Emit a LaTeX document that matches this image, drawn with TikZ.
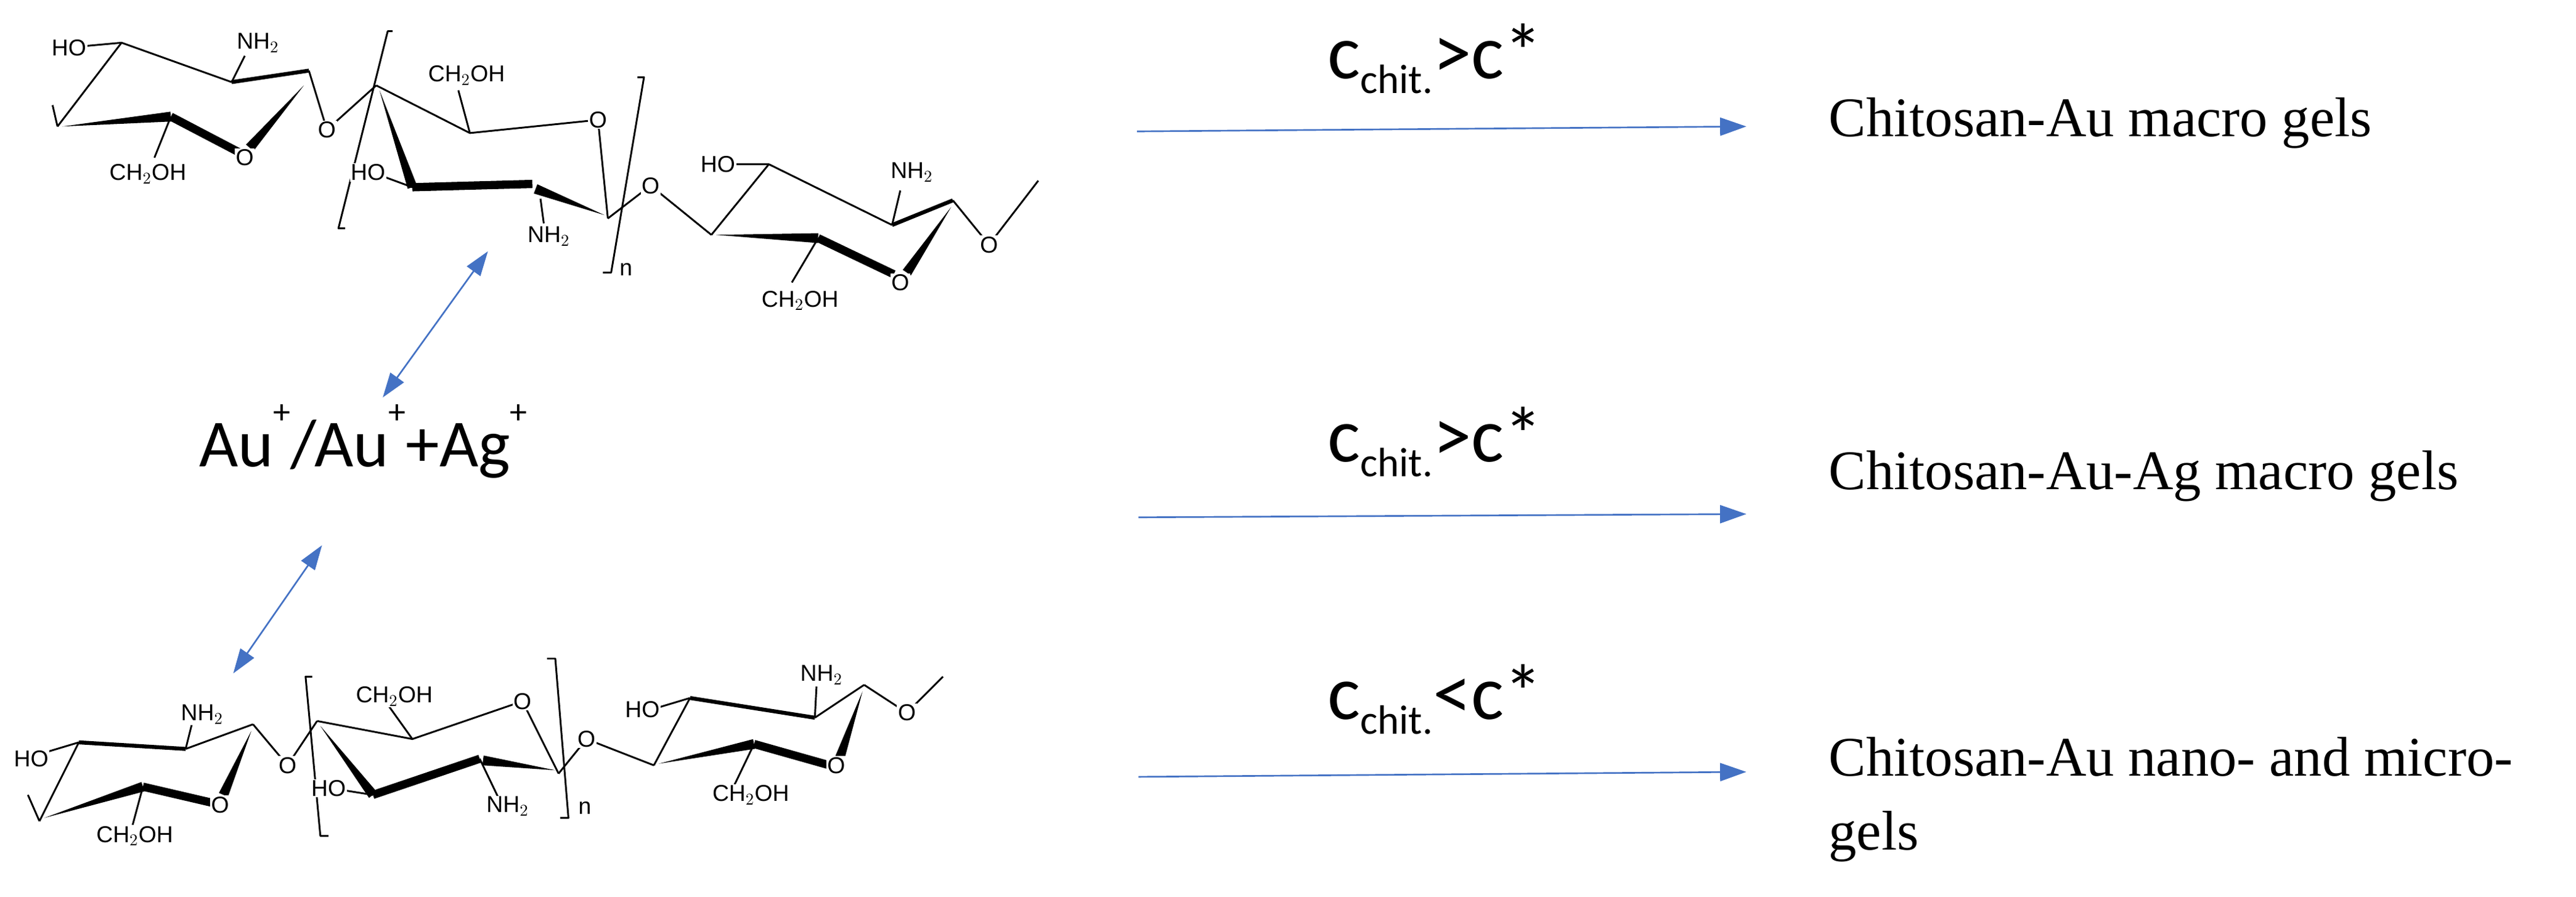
\documentclass[tikz,border=0pt]{standalone}
\usepackage{fontspec}
\setmainfont{Liberation Serif}
\newfontfamily\calfont{Carlito}
\newfontfamily\hel{Liberation Sans}
\usetikzlibrary{calc,arrows.meta}
\definecolor{ab}{RGB}{68,114,196}
\tikzset{
 bond/.style={line width=1.1pt,line join=round},
 mid/.style={line width=2.4pt,line join=round},
 thick bond/.style={line width=5pt,line join=round},
 atom/.style={font=\hel\fontsize{14}{14}\selectfont,fill=white,inner sep=0.6pt},
 rarrow/.style={ab,line width=1pt,-{Triangle[length=16pt,width=11pt]}},
 darrow/.style={ab,line width=1pt,{Triangle[length=15pt,width=10pt]}-{Triangle[length=15pt,width=10pt]}},
 cond/.style={font=\calfont\fontsize{47}{47}\selectfont,inner sep=0pt},
 prod/.style={font=\fontsize{34}{45}\selectfont,anchor=west,inner sep=0pt,align=left}
}
\newcommand{\wdg}[3]{\fill ($#1$) -- ($#2!#3!90:#1$) -- ($#2!#3!-90:#1$) -- cycle;}
\newcommand{\cchit}[1]{c\raisebox{-9pt}{\fontsize{25}{25}\selectfont chit.}#1c*}
\begin{document}
\begin{tikzpicture}[x=1pt,y=-1pt]
\useasboundingbox (0,0) rectangle (1568,546);
% ================= top structure =================
\begin{scope}
% ring A
\draw[bond] (35,77) -- (74,26) -- (141,50);
\draw[mid] (141,50) -- (188,43);
\draw[bond] (35,77) -- (32,64);
\draw[bond] (141,50) -- (149,34);
\draw[bond] (104,71) -- (94,96);
\draw[bond] (74,26) -- (52,28);
\wdg{(185,52)}{(152,90)}{3pt}
\draw[thick bond] (104,71) -- (146,93);
\wdg{(38,77)}{(104,71)}{3pt}
\draw[bond] (188,43) -- (199,79) -- (229,52);
% ring B
\draw[bond] (229,52) -- (286,81) -- (364,73) -- (370,133);
\draw[bond] (286,81) -- (279,55);
\wdg{(231,55)}{(251,114)}{3pt}
\draw[thick bond] (251,114) -- (324,112);
\wdg{(368,131)}{(326,115)}{3pt}
\draw[bond] (251,114) -- (232,107);
\draw[bond] (329,121) -- (331,136);
\draw[bond] (370,133) -- (396,113) -- (433,143);
% brackets
\draw[bond] (239,19) -- (236,19) -- (206,139) -- (210,139);
\draw[bond] (388,47) -- (392,47) -- (372,166) -- (367,166);
\node[atom,fill=none] (nt) at (381,164) {n};
% ring C
\draw[bond] (433,143) -- (468,100) -- (543,137);
\draw[mid] (543,137) -- (580,122);
\draw[bond] (468,100) -- (446,100);
\draw[bond] (543,137) -- (548,116);
\wdg{(579,126)}{(552,166)}{3pt}
\draw[thick bond] (498,145) -- (544,167);
\wdg{(436,143)}{(498,145)}{3pt}
\draw[bond] (498,145) -- (482,172);
\draw[bond] (580,122) -- (602,149) -- (632,110);
% labels
\node[atom] (a1) at (42,29) {HO};
\node[atom] (a2) at (157,26) {NH$_2$};
\node[atom] (a3) at (149,96) {O};
\node[atom] (a4) at (90,106) {CH$_2$OH};
\node[atom] (a5) at (199,79) {O};
\node[atom] (a6) at (284,46) {CH$_2$OH};
\node[atom] (a7) at (364,73) {O};
\node[atom] (a8) at (224,105) {HO};
\node[atom] (a9) at (334,144) {NH$_2$};
\node[atom] (a10) at (396,113) {O};
\node[atom] (a11) at (437,100) {HO};
\node[atom] (a12) at (555,105) {NH$_2$};
\node[atom] (a13) at (548,172) {O};
\node[atom] (a14) at (487,183) {CH$_2$OH};
\node[atom] (a15) at (602,149) {O};
\end{scope}
% ================= bottom structure =================
\begin{scope}
\draw[mid] (48,452) -- (113,456);
\draw[bond] (24,500) -- (48,452);
\draw[bond] (113,456) -- (154,441);
\draw[bond] (48,452) -- (28,458);
\draw[bond] (113,456) -- (117,440);
\draw[bond] (24,500) -- (17,484);
\wdg{(153,445)}{(136,484)}{3pt}
\draw[thick bond] (87,479) -- (130,489);
\wdg{(27,498)}{(87,479)}{3pt}
\draw[bond] (87,479) -- (80,505);
\draw[bond] (154,441) -- (175,466) -- (193,439);
% ring B
\draw[bond] (193,439) -- (251,450) -- (318,427) -- (340,471);
\draw[bond] (251,450) -- (236,429);
\wdg{(195,442)}{(227,484)}{3pt}
\draw[thick bond] (227,484) -- (292,462);
\wdg{(338,469)}{(294,463)}{3pt}
\draw[bond] (227,484) -- (208,481);
\draw[bond] (292,462) -- (303,485);
\draw[bond] (340,471) -- (357,450) -- (398,466);
% brackets
\draw[bond] (190,412) -- (186,412) -- (195,509) -- (200,509);
\draw[bond] (333,401) -- (338,401) -- (346,498) -- (341,498);
\node[atom,fill=none] (nb) at (356,492) {n};
% ring C
\draw[bond] (398,466) -- (420,425);
\draw[mid] (420,425) -- (496,437);
\draw[bond] (496,437) -- (526,417);
\draw[bond] (420,425) -- (400,431);
\draw[bond] (496,437) -- (497,418);
\wdg{(525,421)}{(511,462)}{3pt}
\draw[thick bond] (459,453) -- (505,466);
\wdg{(401,465)}{(459,453)}{3pt}
\draw[bond] (459,453) -- (447,478);
\draw[bond] (526,417) -- (552,434) -- (574,412);
% labels
\node[atom] (b1) at (19,462) {HO};
\node[atom] (b2) at (123,435) {NH$_2$};
\node[atom] (b3) at (134,490) {O};
\node[atom] (b4) at (82,509) {CH$_2$OH};
\node[atom] (b5) at (175,466) {O};
\node[atom] (b6) at (240,424) {CH$_2$OH};
\node[atom] (b7) at (318,427) {O};
\node[atom] (b8) at (200,480) {HO};
\node[atom] (b9) at (309,491) {NH$_2$};
\node[atom] (b10) at (357,450) {O};
\node[atom] (b11) at (391,432) {HO};
\node[atom] (b12) at (500,411) {NH$_2$};
\node[atom] (b13) at (509,466) {O};
\node[atom] (b14) at (457,484) {CH$_2$OH};
\node[atom] (b15) at (552,434) {O};
\end{scope}
% ================= ions and arrows =================
\node[font=\calfont\fontsize{41}{41}\selectfont,inner sep=0pt,anchor=base west] (ion) at (121,284)
 {Au\raisebox{26pt}{\fontsize{21}{21}\selectfont +}/Au\raisebox{26pt}{\fontsize{21}{21}\selectfont +}+Ag\raisebox{26pt}{\fontsize{21}{21}\selectfont +}};
\coordinate (d1a) at (233,242); \coordinate (d1b) at (297,153);
\coordinate (d2a) at (142,410); \coordinate (d2b) at (196,332);
\draw[darrow] (d1a) -- (d1b);
\draw[darrow] (d2a) -- (d2b);
\coordinate (s1) at (692,80); \coordinate (e1) at (1063,77);
\coordinate (s2) at (693,315); \coordinate (e2) at (1063,313);
\coordinate (s3) at (693,473); \coordinate (e3) at (1063,470);
\draw[rarrow] (s1) -- (e1);
\draw[rarrow] (s2) -- (e2);
\draw[rarrow] (s3) -- (e3);
\node[cond,anchor=base west] (c1) at (808,48) {\cchit{>}};
\node[cond,anchor=base west] (c2) at (808,281) {\cchit{>}};
\node[cond,anchor=base west] (c3) at (808,438) {\cchit{<}};
\node[prod] (p1) at (1113,75) {Chitosan-Au macro gels};
\node[prod] (p2) at (1113,290) {Chitosan-Au-Ag macro gels};
\node[prod] (p3) at (1113,487) {Chitosan-Au nano- and micro-\\gels};
\end{tikzpicture}
\end{document}
